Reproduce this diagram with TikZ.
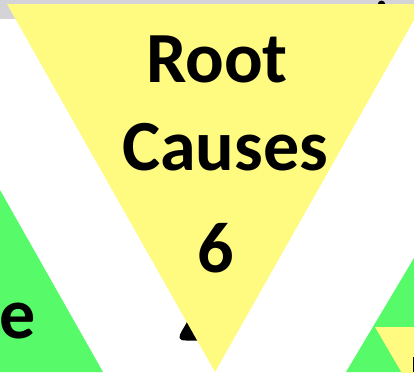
\documentclass[tikz,border=0pt]{standalone}
\usepackage{fontspec}
\setmainfont{Carlito}
\definecolor{yfill}{RGB}{255,250,128}
\definecolor{gfill}{RGB}{87,250,105}
\definecolor{bandgray}{RGB}{212,212,216}
\begin{document}
\begin{tikzpicture}[x=1pt,y=-1pt,
  big/.style={font=\fontsize{72}{80}\selectfont\bfseries, inner sep=0pt, text=black}]
\useasboundingbox (0,0) rectangle (414,372);
\clip (0,0) rectangle (414,372);
\fill[white] (0,0) rectangle (414,372);
% gray band
\fill[bandgray] (0,0) rectangle (414,4);
\fill[bandgray] (0,0) rectangle (30,19);
% small black dome at top (lower half hidden by the yellow triangle)
\fill[black] (381.5,4.5) ellipse[x radius=3.8, y radius=4];
% left green triangle
\fill[gfill] (0,190) -- (103,372) -- (0,372) -- cycle;
% black tip behind yellow triangle
\fill[black] (187,322) .. controls (184,328) and (179,334) .. (179.5,338) .. controls (180,340.5) and (183,340.5) .. (186,340.5) -- (200,340.5) -- (200,322) -- cycle;
% big yellow inverted triangle
\fill[yfill] (7,4) -- (423,4) -- (215,372) -- cycle;
% right green triangle
\fill[gfill] (414,258) -- (346,372) -- (414,372) -- cycle;
% small yellow inverted triangle
\fill[yfill] (375,327) -- (420,327) -- (420,380) -- (406,380) -- cycle;
% black bar at bottom right
\fill[black] (412.5,357) rectangle (414,372);
% texts
\node[big, anchor=base] (root) at (217,82) {Root};
\node[big, anchor=base] (causes) at (225,170) {Causes};
\node[big, anchor=base] (six) at (216,272) {6};
\node[big, anchor=base west] (e) at (-1,338) {e};
\end{tikzpicture}
\end{document}
